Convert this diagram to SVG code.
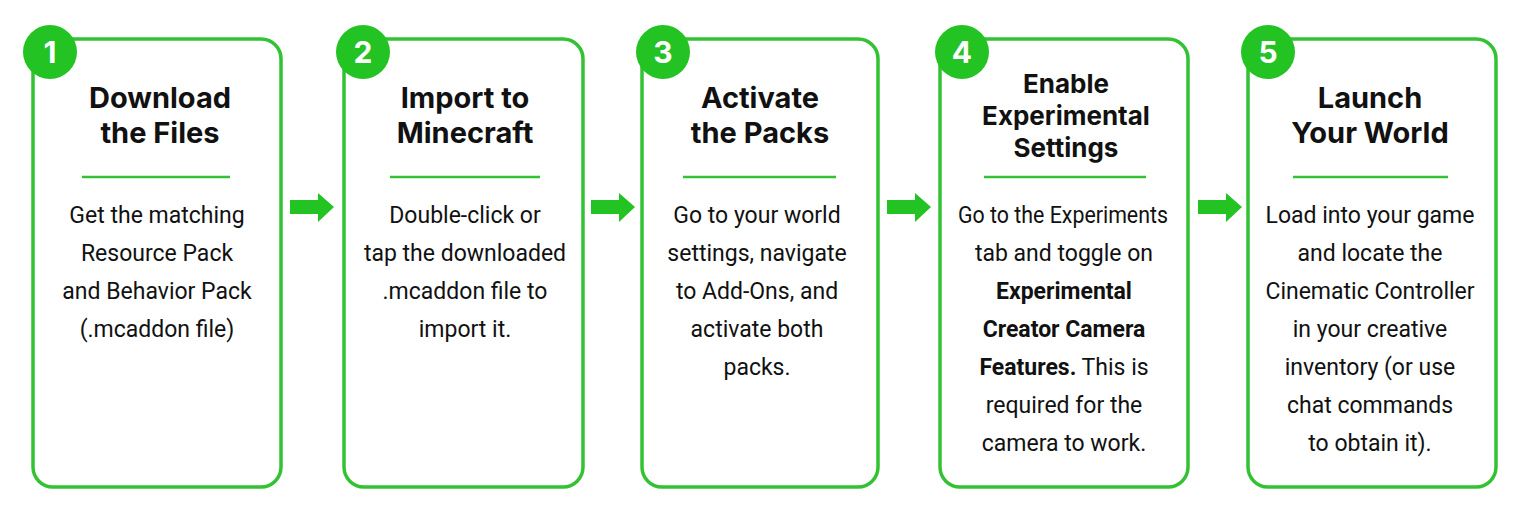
<svg xmlns="http://www.w3.org/2000/svg" width="1521" height="513" viewBox="0 0 1521 513">
<defs>
<style>
.card{fill:#fff;stroke:#33c233;stroke-width:3.5}
.badge{fill:#22c322}
.num{font-family:Inter,Roboto,"Liberation Sans",sans-serif;font-weight:700;font-size:30px;fill:#fff;text-anchor:middle}
.title{font-family:Inter,Roboto,"Liberation Sans",sans-serif;font-weight:700;font-size:29px;fill:#111;text-anchor:middle}
.t3{font-size:26px}
.body{font-family:Roboto,"Liberation Sans",sans-serif;font-size:23px;fill:#111;text-anchor:middle}
.b{font-weight:700}
.div{stroke:#33c233;stroke-width:2.5}
.arrow{fill:#22c322}
</style>
</defs>
<rect width="1521" height="513" fill="#fff"/>
<g id="connectors" class="arrow">
<path d="M290,200 H318 V193 L334,207 L318,222 V214 H290 Z"/>
<path d="M591,200 H619 V193 L635,207 L619,222 V214 H591 Z"/>
<path d="M887,200 H915 V193 L931,207 L915,222 V214 H887 Z"/>
<path d="M1198,200 H1226 V193 L1242,207 L1226,222 V214 H1198 Z"/>
</g>
<g id="step1">
<rect class="card" x="33" y="39" width="248" height="448" rx="20"/>
<circle class="badge" cx="50" cy="52" r="27"/>
<text class="num" x="50" y="63">1</text>
<text class="title" x="160" y="108">Download</text>
<text class="title" x="160" y="143">the Files</text>
<line class="div" x1="82" y1="177" x2="230" y2="177"/>
<text class="body" x="157" y="223">Get the matching</text>
<text class="body" x="157" y="261">Resource Pack</text>
<text class="body" x="157" y="299">and Behavior Pack</text>
<text class="body" x="157" y="337">(.mcaddon file)</text>
</g>
<g id="step2">
<rect class="card" x="344" y="39" width="239" height="448" rx="20"/>
<circle class="badge" cx="363" cy="52" r="27"/>
<text class="num" x="363" y="63">2</text>
<text class="title" x="465" y="108">Import to</text>
<text class="title" x="465" y="143">Minecraft</text>
<line class="div" x1="390" y1="177" x2="540" y2="177"/>
<text class="body" x="465" y="223">Double-click or</text>
<text class="body" x="465" y="261">tap the downloaded</text>
<text class="body" x="465" y="299">.mcaddon file to</text>
<text class="body" x="465" y="337">import it.</text>
</g>
<g id="step3">
<rect class="card" x="642" y="39" width="236" height="448" rx="20"/>
<circle class="badge" cx="663" cy="52" r="27"/>
<text class="num" x="663" y="63">3</text>
<text class="title" x="760" y="108">Activate</text>
<text class="title" x="760" y="143">the Packs</text>
<line class="div" x1="683" y1="177" x2="836" y2="177"/>
<text class="body" x="757" y="223">Go to your world</text>
<text class="body" x="757" y="261">settings, navigate</text>
<text class="body" x="757" y="299">to Add-Ons, and</text>
<text class="body" x="757" y="337">activate both</text>
<text class="body" x="757" y="375">packs.</text>
</g>
<g id="step4">
<rect class="card" x="940" y="39" width="248" height="448" rx="20"/>
<circle class="badge" cx="962" cy="52" r="27"/>
<text class="num" x="962" y="63">4</text>
<text class="title t3" x="1066" y="93">Enable</text>
<text class="title t3" x="1066" y="125">Experimental</text>
<text class="title t3" x="1066" y="157">Settings</text>
<line class="div" x1="984" y1="177" x2="1146" y2="177"/>
<text class="body" x="1063" y="223" textLength="210" lengthAdjust="spacingAndGlyphs">Go to the Experiments</text>
<text class="body" x="1064" y="261">tab and toggle on</text>
<text class="body b" x="1064" y="299">Experimental</text>
<text class="body b" x="1064" y="337">Creator Camera</text>
<text class="body" x="1064" y="375"><tspan class="b">Features.</tspan> This is</text>
<text class="body" x="1064" y="413">required for the</text>
<text class="body" x="1064" y="451">camera to work.</text>
</g>
<g id="step5">
<rect class="card" x="1248" y="39" width="248" height="448" rx="20"/>
<circle class="badge" cx="1268" cy="52" r="27"/>
<text class="num" x="1268" y="63">5</text>
<text class="title" x="1370" y="108">Launch</text>
<text class="title" x="1370" y="143">Your World</text>
<line class="div" x1="1293" y1="177" x2="1448" y2="177"/>
<text class="body" x="1370" y="223">Load into your game</text>
<text class="body" x="1370" y="261">and locate the</text>
<text class="body" x="1370" y="299">Cinematic Controller</text>
<text class="body" x="1370" y="337">in your creative</text>
<text class="body" x="1370" y="375">inventory (or use</text>
<text class="body" x="1370" y="413">chat commands</text>
<text class="body" x="1370" y="451">to obtain it).</text>
</g>
</svg>
